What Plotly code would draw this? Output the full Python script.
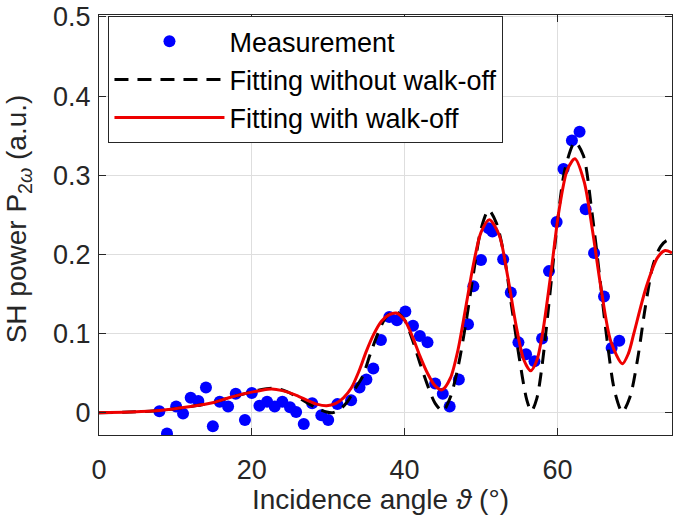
import plotly.graph_objects as go

# Measurement points (incidence angle in degrees, SH power a.u.)
meas_x = [7.9, 8.9, 10.1, 11.0, 12.0, 13.0, 14.0, 14.9, 15.8, 16.9, 17.9, 19.1, 20.0, 21.0,
          22.0, 23.0, 24.0, 25.0, 25.8, 26.8, 27.9, 29.1, 30.0, 31.2, 33.0, 34.1, 35.0, 35.9,
          36.9, 38.0, 39.0, 40.1, 41.1, 42.0, 43.0, 44.0, 45.0, 45.9, 47.1, 48.3, 49.0, 50.0,
          51.0, 51.5, 52.9, 53.9, 54.9, 55.9, 57.0, 58.0, 58.9, 59.9, 60.8, 61.9, 62.9, 63.7,
          64.8, 66.1, 67.1, 68.1]
meas_y = [0.002, -0.026, 0.008, -0.001, 0.019, 0.015, 0.032, -0.017, 0.014, 0.008, 0.024, -0.009,
          0.025, 0.009, 0.014, 0.008, 0.014, 0.007, 0.001, -0.014, 0.012, -0.003, -0.009, 0.011,
          0.016, 0.032, 0.042, 0.056, 0.092, 0.121, 0.117, 0.128, 0.110, 0.097, 0.089, 0.037,
          0.024, 0.008, 0.042, 0.112, 0.160, 0.193, 0.233, 0.229, 0.194, 0.152, 0.089, 0.074,
          0.065, 0.094, 0.179, 0.241, 0.308, 0.344, 0.355, 0.257, 0.202, 0.147, 0.082, 0.091]

# Fit without walk-off
nowo_x = [0, 4, 8, 12, 15, 17, 19, 21, 22.6, 24, 25.6, 27, 28.5, 29.8, 30.5, 31.5, 32.5, 33.5,
          34.5, 35.5, 36.5, 37.5, 38.7, 40, 41, 42, 43, 44, 45, 46, 47, 48, 49, 50, 51, 52, 53,
          54, 55, 56, 56.6, 57.3, 58, 59, 60, 61, 62.3, 63.4, 64.5, 65.5, 66.5, 67.5, 68.5,
          69.5, 70.5, 71.5, 72.5, 73.5, 74.4, 75]
nowo_y = [0.000, 0.001, 0.003, 0.008, 0.013, 0.019, 0.024, 0.029, 0.031, 0.029, 0.022, 0.014,
          0.006, 0.001, 0.000, 0.004, 0.014, 0.030, 0.046, 0.074, 0.100, 0.120, 0.129, 0.117,
          0.093, 0.063, 0.035, 0.012, 0.002, 0.020, 0.058, 0.112, 0.175, 0.232, 0.256, 0.240,
          0.200, 0.135, 0.070, 0.016, 0.002, 0.018, 0.060, 0.148, 0.240, 0.308, 0.342, 0.325,
          0.255, 0.175, 0.092, 0.027, 0.001, 0.020, 0.068, 0.133, 0.186, 0.210, 0.218, 0.214]

# Fit with walk-off
wo_x = [0, 4, 8, 12, 15, 17, 19, 21, 22.6, 24, 25.6, 27, 28.5, 29.8, 31, 32, 33, 34, 35, 36,
        37, 38, 38.9, 40, 41, 42, 43, 44, 44.9, 46, 47, 48, 49, 50, 51.1, 52.4, 53.5, 54.6,
        55.6, 56.5, 57.3, 58.1, 59.2, 60.2, 61.3, 62.3, 63.5, 64.6, 65.7, 67.0, 68.5, 69.3,
        70.0, 71.6, 73.1, 74.1, 75]
wo_y = [0.000, 0.001, 0.003, 0.008, 0.013, 0.019, 0.024, 0.028, 0.030, 0.028, 0.023, 0.017,
        0.011, 0.009, 0.012, 0.019, 0.031, 0.052, 0.078, 0.100, 0.116, 0.124, 0.126, 0.117,
        0.097, 0.072, 0.050, 0.034, 0.029, 0.044, 0.080, 0.133, 0.187, 0.228, 0.244, 0.224,
        0.172, 0.110, 0.067, 0.053, 0.066, 0.103, 0.180, 0.255, 0.307, 0.321, 0.292, 0.230,
        0.158, 0.090, 0.062, 0.075, 0.100, 0.158, 0.196, 0.205, 0.202]

x_ticks = [0, 20, 40, 60]
y_ticks = [0, 0.1, 0.2, 0.3, 0.4, 0.5]

FONT = "Liberation Sans, Arial, Helvetica, sans-serif"
AX = "#262626"

fig = go.Figure()
fig.add_trace(go.Scatter(x=meas_x, y=meas_y, mode="markers", name="Measurement",
                         marker=dict(color="#0000ff", size=12, line=dict(width=0))))
fig.add_trace(go.Scatter(x=nowo_x, y=nowo_y, mode="lines", name="Fitting without walk-off",
                         line=dict(color="black", width=3, dash="14px,9px", shape="spline", smoothing=0.8)))
fig.add_trace(go.Scatter(x=wo_x, y=wo_y, mode="lines", name="Fitting with walk-off",
                         line=dict(color="#ee0000", width=3, shape="spline", smoothing=0.8)))

axis_common = dict(showline=True, linecolor=AX, linewidth=1.3, mirror="allticks",
                   ticks="inside", ticklen=7, tickwidth=1.3, tickcolor=AX,
                   showgrid=True, gridcolor="#dedede", gridwidth=1.2, zeroline=False,
                   ticklabeloverflow="allow",
                   tickfont=dict(family=FONT, size=27, color=AX))

fig.update_xaxes(range=[0, 75], tickvals=x_ticks, ticktext=[str(v) for v in x_ticks],
                 ticklabelstandoff=10, **axis_common)
fig.update_yaxes(range=[-0.028, 0.5025], tickvals=y_ticks,
                 ticktext=["0", "0.1", "0.2", "0.3", "0.4", "0.5"],
                 ticklabelstandoff=2, **axis_common)

fig.update_layout(
    width=675, height=519,
    margin=dict(l=99, r=2, t=13, b=84),
    paper_bgcolor="white", plot_bgcolor="white",
    font=dict(family=FONT, color=AX),
    showlegend=True,
    legend=dict(x=0.016, y=0.9976, xanchor="left", yanchor="top",
                bgcolor="white", bordercolor=AX, borderwidth=1.3,
                font=dict(family=FONT, size=27, color="black"),
                itemwidth=110, tracegroupgap=0),
    annotations=[
        dict(text="Incidence angle <i>ϑ</i> (°)", xref="paper", yref="paper",
             x=0.492, y=-0.154, xanchor="center", yanchor="middle", showarrow=False,
             font=dict(family=FONT, size=28, color=AX)),
        dict(text="SH power P<sub>2<i>ω</i></sub> (a.u.)", xref="paper", yref="paper",
             x=-0.141, y=0.514, xanchor="center", yanchor="middle", showarrow=False,
             textangle=-90, font=dict(family=FONT, size=28, color=AX)),
    ],
)

# Remove the default 8px page margin so the 675x519 figure fills the window exactly.
fig.write_html("out.html", config={"displayModeBar": False},
               post_script="document.body.style.margin='0px';")
